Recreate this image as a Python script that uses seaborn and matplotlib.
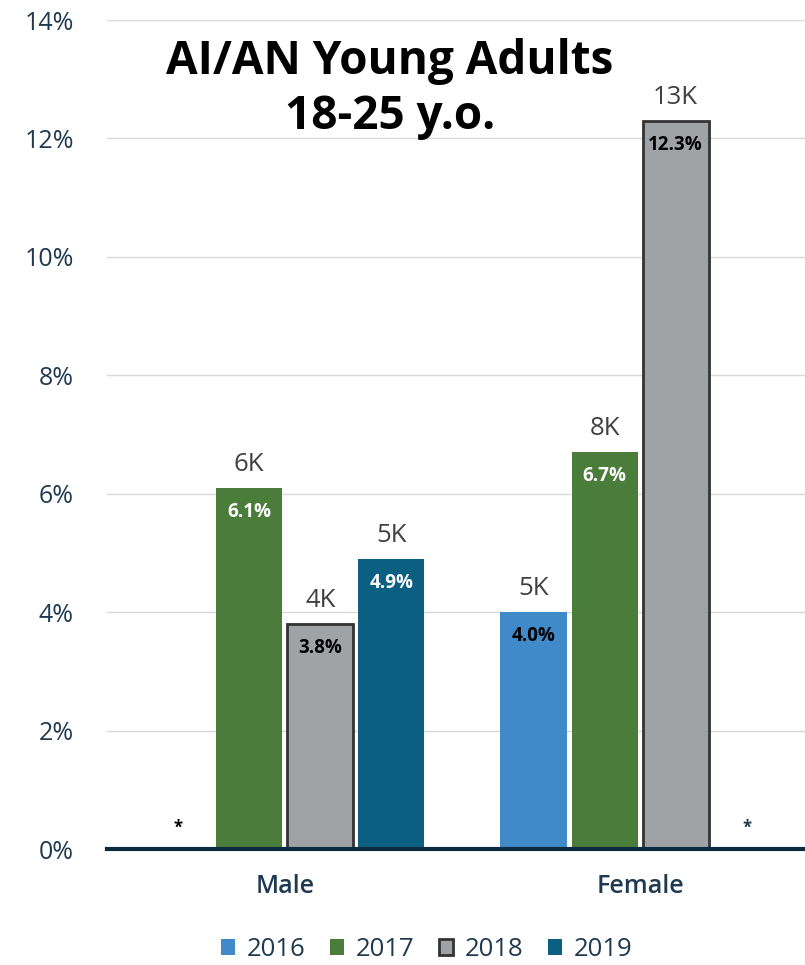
import numpy as np
import pandas as pd
import matplotlib
matplotlib.use("Agg")
import matplotlib.pyplot as plt
import seaborn as sns
from matplotlib.patches import Patch

sexes = ["Male", "Female"]
years = ["2016", "2017", "2018", "2019"]
# percent values; None = suppressed (*)
pct = {
    "2016": [None, 4.0],
    "2017": [6.1, 6.7],
    "2018": [3.8, 12.3],
    "2019": [4.9, None],
}
counts = {
    "2016": [None, "5K"],
    "2017": ["6K", "8K"],
    "2018": ["4K", "13K"],
    "2019": ["5K", None],
}
colors = {"2016": "#418AC9", "2017": "#4A7D3A", "2018": "#A0A3A6", "2019": "#0B6081"}
inner_color = {"2016": "black", "2017": "white", "2018": "black", "2019": "white"}

rows = []
for y in years:
    for i, s in enumerate(sexes):
        v = pct[y][i]
        rows.append({"Sex": s, "Year": y, "Pct": 0.0 if v is None else v})
df = pd.DataFrame(rows)

sns.set_style("white")
plt.rcParams["font.family"] = ["Open Sans", "DejaVu Sans"]

fig = plt.figure(figsize=(8.05, 9.65), dpi=100)
ax = fig.add_axes([0.133, 0.1202, 0.867, 0.859])

sns.barplot(data=df, x="Sex", y="Pct", hue="Year", order=sexes, hue_order=years,
            palette=colors, width=0.8, gap=0.07, ax=ax, legend=False,
            saturation=1, linewidth=0)

for cont, y in zip(ax.containers, years):
    for i, bar in enumerate(cont.patches):
        v = pct[y][i]
        cx = bar.get_x() + bar.get_width() / 2
        if y == "2018":
            bar.set_edgecolor("#333333")
            bar.set_linewidth(2)
        if v is None:
            ax.text(cx, 0.2, "*", ha="center", va="bottom", fontsize=12,
                    fontweight="bold", color="black" if i == 0 else "#1F3A50")
            continue
        h = bar.get_height()
        ax.annotate(counts[y][i], (cx, h), xytext=(0, 8), textcoords="offset points",
                    ha="center", va="bottom", fontsize=18.5, color="#404040")
        ax.annotate(f"{v:.1f}%", (cx, h), xytext=(0, -10), textcoords="offset points",
                    ha="center", va="top", fontsize=13.5, fontweight="bold",
                    color=inner_color[y])

ax.set_ylim(0, 14)
ax.set_xlim(-0.5, 1.464)
ax.set_yticks(np.arange(0, 15, 2))
ax.set_yticklabels([f"{t}%" for t in range(0, 15, 2)])
ax.tick_params(axis="y", labelsize=18, colors="#1F3A50", length=0, pad=24)
ax.tick_params(axis="x", labelsize=18, colors="#1F3A50", length=0, pad=18)
for lab in ax.get_xticklabels():
    lab.set_fontweight("semibold")
ax.set_xlabel("")
ax.set_ylabel("")
ax.grid(axis="y", color="#D9D9D9", linewidth=1)
ax.set_axisbelow(True)
for side in ["top", "right", "left"]:
    ax.spines[side].set_visible(False)
ax.spines["bottom"].set_color("#0E2A3F")
ax.spines["bottom"].set_linewidth(3)

ax.text(0.405, 0.978, "AI/AN Young Adults\n18-25 y.o.", transform=ax.transAxes,
        ha="center", va="top", fontsize=33, fontweight="bold", color="black",
        linespacing=1.2)

handles = [Patch(facecolor=colors[y], edgecolor="#333333" if y == "2018" else colors[y],
                 linewidth=2 if y == "2018" else 0) for y in years]
fig.legend(handles, years, loc="center", bbox_to_anchor=(0.53, 0.016), ncol=4,
           frameon=False, fontsize=18.5, handlelength=0.55, handleheight=0.55,
           handletextpad=0.45, columnspacing=0.95, labelcolor="#1F3A50")

fig.savefig("out.png", dpi=100)
